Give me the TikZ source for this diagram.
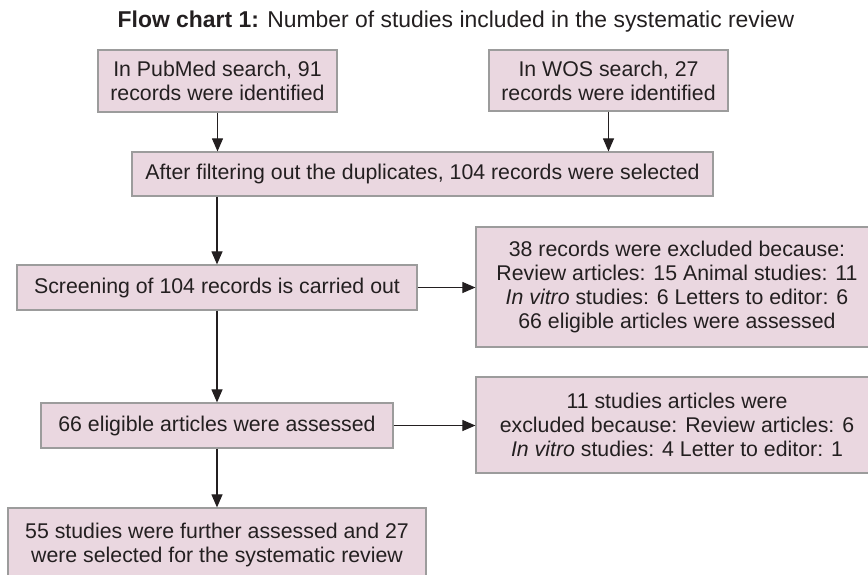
\documentclass[tikz,border=0pt]{standalone}
\usepackage{fontspec}
\setmainfont{Liberation Sans}
\usetikzlibrary{arrows.meta}
\definecolor{boxpink}{HTML}{EAD7E0}
\definecolor{boxedge}{HTML}{9C9C9C}
\definecolor{inkgrey}{HTML}{231F20}

\tikzset{
  stage/.style={rectangle,draw=boxedge,line width=1.2pt,fill=boxpink,text=inkgrey,
    align=center,inner sep=0pt,font=\fontsize{21.3}{24}\selectfont},
  flow/.style={draw=inkgrey,line width=1.1pt,-{Triangle[length=13pt,width=11pt]}}
}

\begin{document}
\begin{tikzpicture}[x=1pt,y=-1pt]
    \useasboundingbox (0,0) rectangle (868,574);
    \clip (0,0) rectangle (868,574);
    \node (title) at (456,22) [text=inkgrey,font=\fontsize{22.9}{26}\selectfont]
        {\textbf{Flow chart 1:} Number of studies included in the systematic review};
    \node (pubmed) at (217.5,81) [stage,minimum width=239pt,minimum height=62pt]
        {In PubMed search, 91\\records were identified};
    \node (wos) at (608.5,80.5) [stage,minimum width=239pt,minimum height=61pt]
        {In WOS search, 27\\records were identified};
    \node (filter) at (422.5,174) [stage,minimum width=581pt,minimum height=44pt]
        {After filtering out the duplicates, 104 records were selected};
    \node (screen) at (217,287.5) [stage,minimum width=400pt,minimum height=45pt]
        {Screening of 104 records is carried out};
    \node (excl1) at (677,287) [stage,minimum width=402pt,minimum height=120pt]
        {38 records were excluded because:\\Review articles: 15 Animal studies: 11\\
         \textit{In vitro} studies: 6 Letters to editor: 6\\66 eligible articles were assessed};
    \node (eligible) at (217,425.5) [stage,minimum width=352pt,minimum height=45pt]
        {66 eligible articles were assessed};
    \node (excl2) at (677,425) [stage,minimum width=402pt,minimum height=96pt]
        {11 studies articles were\\excluded because: Review articles: 6\\
         \textit{In vitro} studies: 4 Letter to editor: 1};
    \node (final) at (217,545) [stage,minimum width=418pt,minimum height=74pt]
        {55 studies were further assessed and 27\\were selected for the systematic review};
    \draw[flow] (pubmed.south) -- (pubmed.south |- filter.north);
    \draw[flow] (wos.south) -- (wos.south |- filter.north);
    \draw[flow] (filter.south -| screen.north) -- (screen.north);
    \draw[flow] (screen.east) -- (screen.east -| excl1.west);
    \draw[flow] (screen.south) -- (eligible.north);
    \draw[flow] (eligible.east) -- (eligible.east -| excl2.west);
    \draw[flow] (eligible.south) -- (final.north);
\end{tikzpicture}
\end{document}
